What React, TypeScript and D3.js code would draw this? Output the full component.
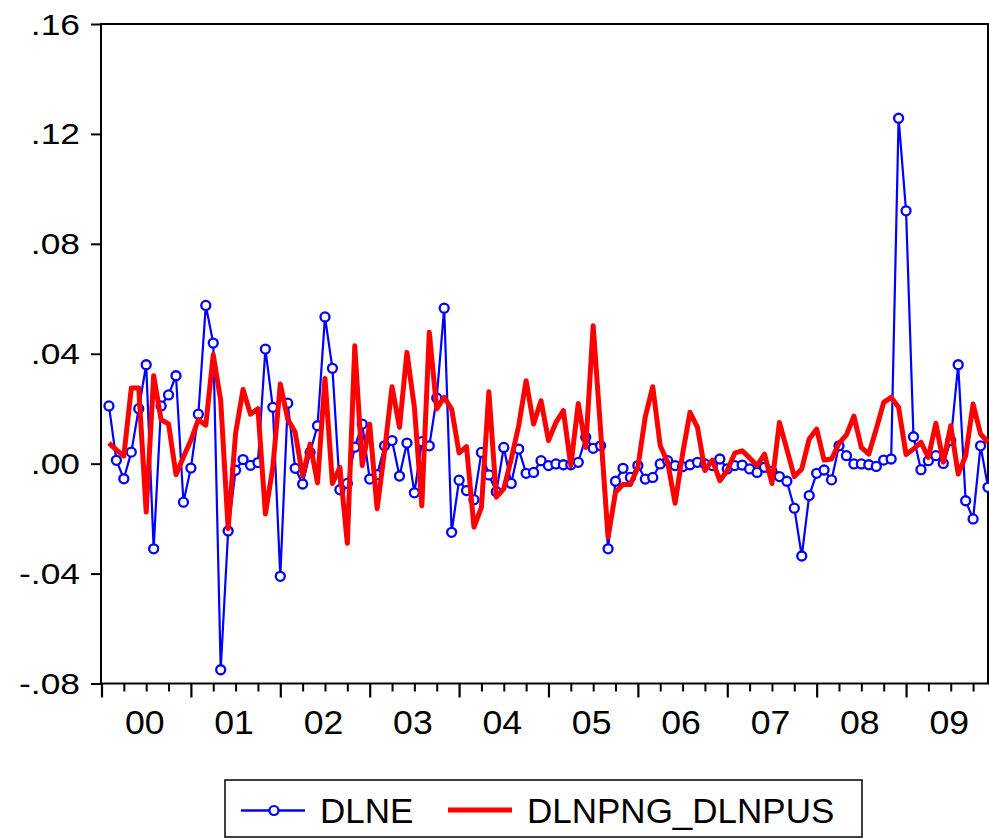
import { useEffect, useRef } from 'react'
import * as d3 from 'd3'

// ─── Data (monthly, 2000M2 .. 2009M12) ───────────────────────────────────────

const yearLabels = ['00', '01', '02', '03', '04', '05', '06', '07', '08', '09']
const yTicks = [-0.08, -0.04, 0, 0.04, 0.08, 0.12, 0.16]
const firstMonth = 1 // 0 = 2000M1; first observation is 2000M2

const dlne = [
  0.021, 0.0012, -0.0055, 0.0042, 0.02, 0.036, -0.031, 0.021, 0.025, 0.032, -0.014,
  -0.0016, 0.018, 0.0576, 0.0439, -0.075, -0.0245, -0.0024, 0.0015, -0.0006, 0.0004,
  0.0417, 0.0205, -0.041, 0.022, -0.0017, -0.0074, 0.0041, 0.0138, 0.0534, 0.0347,
  -0.0095, -0.0072, 0.006, 0.0144, -0.0056, -0.004, 0.0065, 0.0084, -0.0045, 0.0075,
  -0.0106, 0.008, 0.0065, 0.0239, 0.0566, -0.025, -0.006, -0.0098, -0.0131, 0.0041,
  -0.0041, -0.0102, 0.0059, -0.0072, 0.0053, -0.0035, -0.0032, 0.0011, -0.0007, -0.0001,
  -0.0004, -0.0004, 0.0005, 0.0096, 0.0056, 0.0065, -0.031, -0.0064, -0.0017, -0.005,
  -0.0007, -0.0056, -0.005, -0.0001, 0.0011, -0.0007, -0.0011, -0.0004, 0.0005,
  -0.0001, -0.0007, 0.0017, -0.0019, -0.0007, -0.0005, -0.0019, -0.0032, -0.0013,
  -0.0028, -0.0047, -0.0064, -0.0162, -0.0336, -0.0116, -0.0035, -0.0023, -0.0059,
  0.0065, 0.0029, -0.0001, -0.0001, -0.0004, -0.001, 0.0013, 0.0017, 0.1257, 0.092,
  0.0098, -0.0022, 0.0011, 0.0029, 0.0001, 0.0084, 0.036, -0.0135, -0.0201, 0.0065,
  -0.0086,
]

const dlnpngDlnpus = [
  0.0075, 0.005, 0.0028, 0.0275, 0.0275, -0.0176, 0.032, 0.016, 0.0145, -0.004, 0.0024,
  0.0085, 0.016, 0.014, 0.0396, 0.023, -0.0236, 0.011, 0.027, 0.018, 0.02,
  -0.0183, -0.0013, 0.029, 0.0162, 0.0114, -0.0044, 0.0071, -0.007, 0.031, -0.0072,
  -0.0013, -0.029, 0.0429, -0.0007, 0.0144, -0.0164, 0.0047, 0.028, 0.0132, 0.0405,
  0.0205, -0.0153, 0.0478, 0.0199, 0.0241, 0.0199, 0.0039, 0.0062, -0.0231, -0.0159,
  0.0262, -0.0122, -0.0092, 0.0017, 0.0138, 0.0302, 0.0144, 0.0229, 0.0084, 0.015,
  0.0193, -0.0007, 0.0219, 0.0059, 0.0502, 0.012, -0.0268, -0.0104, -0.0076, -0.0076,
  -0.0013, 0.0171, 0.028, 0.0065, 0.0005, -0.0144, 0.0035, 0.0187, 0.0132,
  -0.0025, 0.0013, -0.0062, -0.0025, 0.0038, 0.0047, 0.0021, -0.0007, 0.0035,
  -0.0072, 0.015, 0.0052, -0.0047, -0.0019, 0.009, 0.0126, 0.0013, 0.0017,
  0.0074, 0.0105, 0.0173, 0.0059, 0.0035, 0.0126, 0.0223, 0.0241, 0.0205, 0.0033,
  0.0053, 0.0078, 0.0023, 0.0147, 0.0005, 0.0138, -0.0038, 0.0029, 0.0217, 0.0108,
  0.0078,
]

// ─── Styling ─────────────────────────────────────────────────────────────────

const W = 989
const H = 838
const FONT = "Arial, 'Liberation Sans', sans-serif"
const BLUE = '#0000ff'
const RED = '#ff0000'

export default function App() {
  const ref = useRef<SVGSVGElement>(null)

  useEffect(() => {
    if (!ref.current) return
    const svg = d3.select(ref.current)
    svg.selectAll('*').remove()

    const plot = { left: 101, right: 988, top: 24, bottom: 683.5 }

    const x = d3.scaleLinear().domain([0, 119]).range([plot.left + 0.5, plot.right])
    const y = d3.scaleLinear().domain([-0.08, 0.16]).range([plot.bottom, plot.top])

    // frame
    svg.append('rect')
      .attr('x', plot.left)
      .attr('y', plot.top)
      .attr('width', plot.right - plot.left)
      .attr('height', plot.bottom - plot.top)
      .attr('fill', 'none')
      .attr('stroke', '#000')
      .attr('stroke-width', 2)

    // Y axis ticks
    svg.append('g')
      .attr('transform', `translate(${plot.left},0)`)
      .call(d3.axisLeft(y).tickValues(yTicks).tickSize(10).tickFormat(() => ''))
      .call((sel) => sel.select('.domain').remove())
      .call((sel) => sel.selectAll('line').attr('stroke', '#000').attr('stroke-width', 2))

    yTicks.forEach((v) => {
      const label = (v < 0 ? '-' : '') + d3.format('.2f')(Math.abs(v)).replace(/^0/, '')
      svg.append('text')
        .attr('transform', `translate(80,${y(v) + 10.5}) scale(1.22,1)`)
        .attr('text-anchor', 'end')
        .attr('font-family', FONT)
        .attr('font-size', 29)
        .attr('fill', '#000')
        .text(label)
    })

    // X axis ticks: years (major) and quarters (minor)
    const majors = d3.range(0, 120, 12)
    const minors = d3.range(0, 120, 3).filter((m) => m % 12 !== 0)
    const xAxis = svg.append('g').attr('transform', `translate(0,${plot.bottom})`)
    xAxis.append('g')
      .call(d3.axisBottom(x).tickValues(majors).tickSize(14).tickFormat(() => ''))
      .call((sel) => sel.select('.domain').remove())
      .call((sel) => sel.selectAll('line').attr('stroke', '#000').attr('stroke-width', 2.2))
    xAxis.append('g')
      .call(d3.axisBottom(x).tickValues(minors).tickSize(8).tickFormat(() => ''))
      .call((sel) => sel.select('.domain').remove())
      .call((sel) => sel.selectAll('line').attr('stroke', '#000').attr('stroke-width', 2))

    yearLabels.forEach((lab, i) => {
      svg.append('text')
        .attr('transform', `translate(${x(i * 12 + 5.8)},734) scale(1.08,1)`)
        .attr('text-anchor', 'middle')
        .attr('font-family', FONT)
        .attr('font-size', 33)
        .attr('fill', '#000')
        .text(lab)
    })

    // series
    const line = d3.line<number>()
      .x((_, i) => x(firstMonth + i))
      .y((d) => y(d))

    svg.append('path')
      .datum(dlne)
      .attr('d', line)
      .attr('fill', 'none')
      .attr('stroke', BLUE)
      .attr('stroke-width', 2.2)
      .attr('stroke-linejoin', 'round')

    svg.append('g')
      .selectAll('circle')
      .data(dlne)
      .join('circle')
      .attr('cx', (_, i) => x(firstMonth + i))
      .attr('cy', (d) => y(d))
      .attr('r', 4.5)
      .attr('fill', '#fff')
      .attr('stroke', BLUE)
      .attr('stroke-width', 2.3)

    svg.append('path')
      .datum(dlnpngDlnpus)
      .attr('d', line)
      .attr('fill', 'none')
      .attr('stroke', RED)
      .attr('stroke-width', 5)
      .attr('stroke-linejoin', 'round')

    // legend
    const lg = svg.append('g')
    lg.append('rect')
      .attr('x', 225)
      .attr('y', 780)
      .attr('width', 862 - 225)
      .attr('height', 57)
      .attr('fill', '#fff')
      .attr('stroke', '#000')
      .attr('stroke-width', 1.5)
    lg.append('line')
      .attr('x1', 241).attr('x2', 305).attr('y1', 810.5).attr('y2', 810.5)
      .attr('stroke', BLUE).attr('stroke-width', 2.5)
    lg.append('circle')
      .attr('cx', 274).attr('cy', 810.5).attr('r', 4.5)
      .attr('fill', '#fff').attr('stroke', BLUE).attr('stroke-width', 2.2)
    lg.append('text')
      .attr('x', 320).attr('y', 823)
      .attr('font-family', FONT).attr('font-size', 35).attr('fill', '#000')
      .text('DLNE')
    lg.append('line')
      .attr('x1', 448).attr('x2', 512).attr('y1', 810).attr('y2', 810)
      .attr('stroke', RED).attr('stroke-width', 5)
    lg.append('text')
      .attr('x', 527).attr('y', 823)
      .attr('font-family', FONT).attr('font-size', 35).attr('fill', '#000')
      .text('DLNPNG_DLNPUS')
  }, [])

  return (
    <svg
      ref={ref}
      width={W}
      height={H}
      viewBox={`0 0 ${W} ${H}`}
      style={{ position: 'absolute', left: 0, top: 0, display: 'block', background: '#fff' }}
    />
  )
}
